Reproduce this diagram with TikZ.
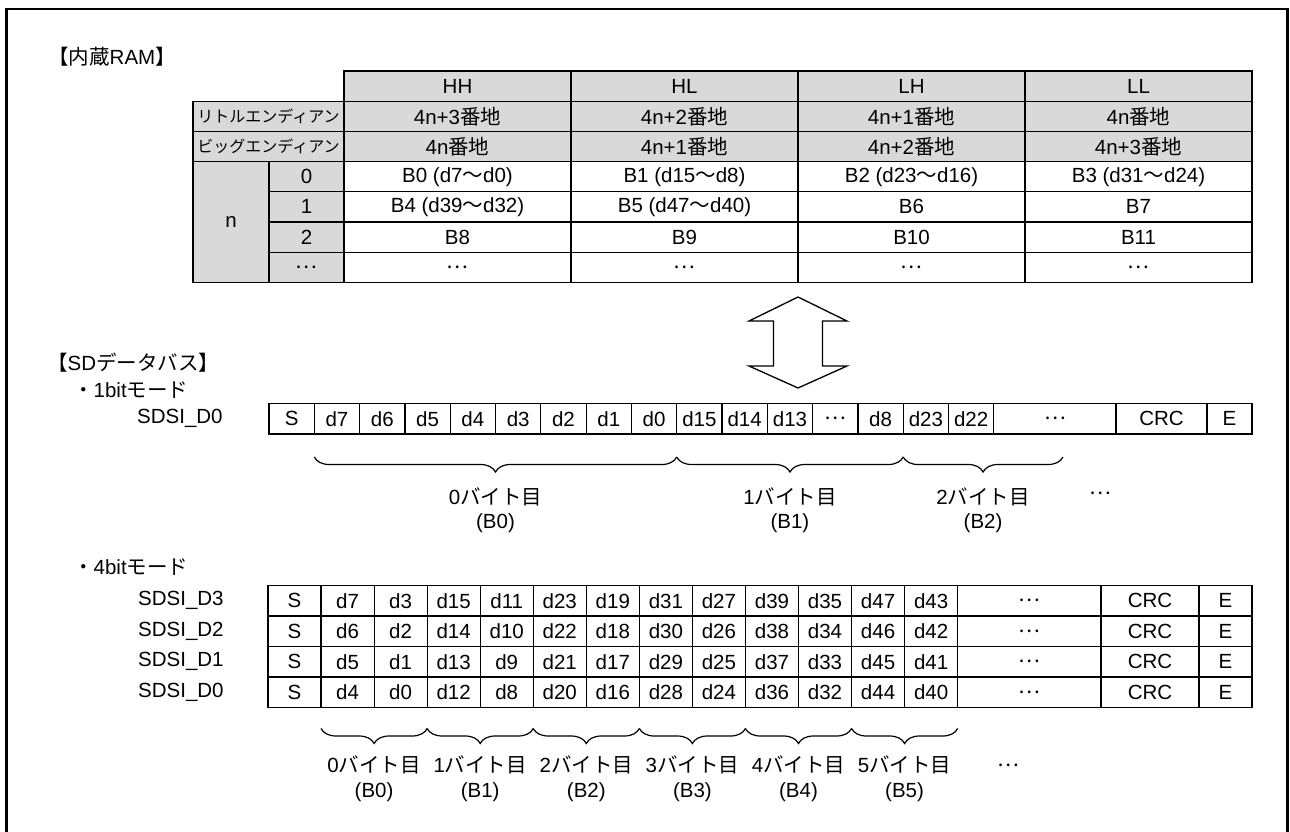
\documentclass[tikz,border=0pt]{standalone}
\usepackage{fontspec}
\setmainfont{Liberation Sans}
\newfontfamily\jp{Noto Sans CJK JP}
\usetikzlibrary{decorations.pathreplacing}
\definecolor{hdrgray}{RGB}{217,217,217}
\newcommand\el{{\jp …}}
\newcommand\wv{{\jp 〜}}
\newcommand\bn{{\jp 番地}}

\begin{document}
\begin{tikzpicture}[x=1pt, y=-1pt, font=\fontsize{20.5}{24.5}\selectfont,
    cell/.style={draw, line width=1.2pt, anchor=north west, inner sep=0pt, outer sep=0pt},
    ramcell/.style={cell, minimum width=227pt, minimum height=30.2pt},
    bitcell/.style={cell, minimum width=45.3pt, minimum height=30.5pt},
    nibcell/.style={cell, minimum width=53.05pt, minimum height=30.5pt},
    txt/.style={anchor=west, inner sep=0pt},
    bytebrace/.style={decorate, decoration={brace, mirror, amplitude=15pt}, line width=1.2pt},
    bytelabel/.style={midway, anchor=north, align=center, inner sep=0pt}]
    \useasboundingbox (0,0) rectangle (1290,832);
    \draw[line width=2.8pt] (6.5,9) rectangle (1287.5,850);

    % internal RAM
    \node[txt] (ram) at (48,57) {{\jp 【内蔵}RAM{\jp 】}};
    \foreach \t [count=\i from 0] in {HH,HL,LH,LL}
        \node[ramcell, fill=hdrgray] (hd\i) at (344+227*\i,71) {\t};
    \node[cell, fill=hdrgray, minimum width=151pt, minimum height=30.2pt, font=\jp\fontsize{16}{18}\selectfont] (le) at (193,101.2) {リトルエンディアン};
    \node[cell, fill=hdrgray, minimum width=151pt, minimum height=30.2pt, font=\jp\fontsize{16}{18}\selectfont] (be) at (193,131.4) {ビッグエンディアン};
    \foreach \t [count=\i from 0] in {4n+3\bn,4n+2\bn,4n+1\bn,4n\bn}
        \node[ramcell, fill=hdrgray] (le\i) at (344+227*\i,101.2) {\t};
    \foreach \t [count=\i from 0] in {4n\bn,4n+1\bn,4n+2\bn,4n+3\bn}
        \node[ramcell, fill=hdrgray] (be\i) at (344+227*\i,131.4) {\t};
    \node[cell, fill=hdrgray, minimum width=76pt, minimum height=120.8pt] (nn) at (193,161.6) {n};
    \foreach \t [count=\i from 0] in {0,1,2,\el}
        \node[cell, fill=hdrgray, minimum width=75pt, minimum height=30.2pt] (ix\i) at (269,161.6+30.2*\i) {\t};
    \foreach \t [count=\i from 0] in {B0 (d7\wv d0),B1 (d15\wv d8),B2 (d23\wv d16),B3 (d31\wv d24)}
        \node[ramcell] (ra\i) at (344+227*\i,161.6) {\t};
    \foreach \t [count=\i from 0] in {B4 (d39\wv d32),B5 (d47\wv d40),B6,B7}
        \node[ramcell] (rb\i) at (344+227*\i,191.8) {\t};
    \foreach \t [count=\i from 0] in {B8,B9,B10,B11}
        \node[ramcell] (rc\i) at (344+227*\i,222) {\t};
    \foreach \i in {0,...,3}
        \node[ramcell] (rd\i) at (344+227*\i,252.2) {\el};

    % double arrow
    \draw[line width=1.3pt, fill=white] (798,297) -- (847,321) -- (822.5,321) -- (822.5,366) -- (847,366)
        -- (798,388) -- (749,366) -- (773.5,366) -- (773.5,321) -- (749,321) -- cycle;

    % SD data bus, 1bit
    \node[txt] (sdbus) at (47,363) {{\jp 【}SD{\jp データバス】}};
    \node[txt] (mode1) at (73,390) {{\jp ・}1bit{\jp モード}};
    \node[txt] (sig1) at (137,418.75) {SDSI\_D0};
    \foreach \t [count=\i from 0] in {S,d7,d6,d5,d4,d3,d2,d1,d0,d15,d14,d13,\el,d8,d23,d22}
        \node[bitcell] (o\i) at (269+45.3*\i,403.5) {\t};
    \node[bitcell, minimum width=122.2pt] (oel) at (o15.north east) {\el};
    \node[bitcell, minimum width=91pt] (ocrc) at (oel.north east) {CRC};
    \node[bitcell, minimum width=45pt] (oe) at (ocrc.north east) {E};

    \draw[bytebrace] ([yshift=-23pt]o1.south west) -- ([yshift=-23pt]o9.south west)
        node[bytelabel, yshift=-30pt] (ob0) {0{\jp バイト目}\\(B0)};
    \draw[bytebrace] ([yshift=-23pt]o9.south west) -- ([yshift=-23pt]o14.south west)
        node[bytelabel, yshift=-30pt] (ob1) {1{\jp バイト目}\\(B1)};
    \draw[bytebrace] ([yshift=-23pt]o14.south west) -- ([xshift=69.2pt, yshift=-23pt]oel.south west)
        node[bytelabel, yshift=-30pt] (ob2) {2{\jp バイト目}\\(B2)};
    \node (obdots) at (1100,493) {\el};

    % 4bit
    \node[txt] (mode4) at (73,567) {{\jp ・}4bit{\jp モード}};
    \foreach \r [count=\j from 0] in {3,2,1,0} {
        \node[txt] (sig\r) at (138,600.75+30.5*\j) {SDSI\_D\r};
        \node[nibcell] (f\r-0) at (268,585.5+30.5*\j) {S};
        \foreach \k in {1,...,12} {
            \pgfmathtruncatemacro\bit{8*int((\k-1)/2)+4*mod(\k,2)+\r}
            \node[nibcell] (f\r-\k) at (268+53.05*\k,585.5+30.5*\j) {d\bit};
        }
        \node[nibcell, minimum width=143.4pt] (f\r-el) at (f\r-12.north east) {\el};
        \node[nibcell, minimum width=98pt] (f\r-crc) at (f\r-el.north east) {CRC};
        \node[nibcell, minimum width=53pt] (f\r-e) at (f\r-crc.north east) {E};
    }
    \foreach \b in {0,...,5} {
        \pgfmathtruncatemacro\ka{2*\b+1}
        \pgfmathtruncatemacro\kb{2*\b+2}
        \draw[bytebrace] ([yshift=-21pt]f0-\ka.south west) -- ([yshift=-21pt]f0-\kb.south east)
            node[bytelabel, yshift=-27pt] (fb\b) {\b{\jp バイト目}\\(B\b)};
    }
    \node (fbdots) at (1008,765) {\el};
\end{tikzpicture}
\end{document}
